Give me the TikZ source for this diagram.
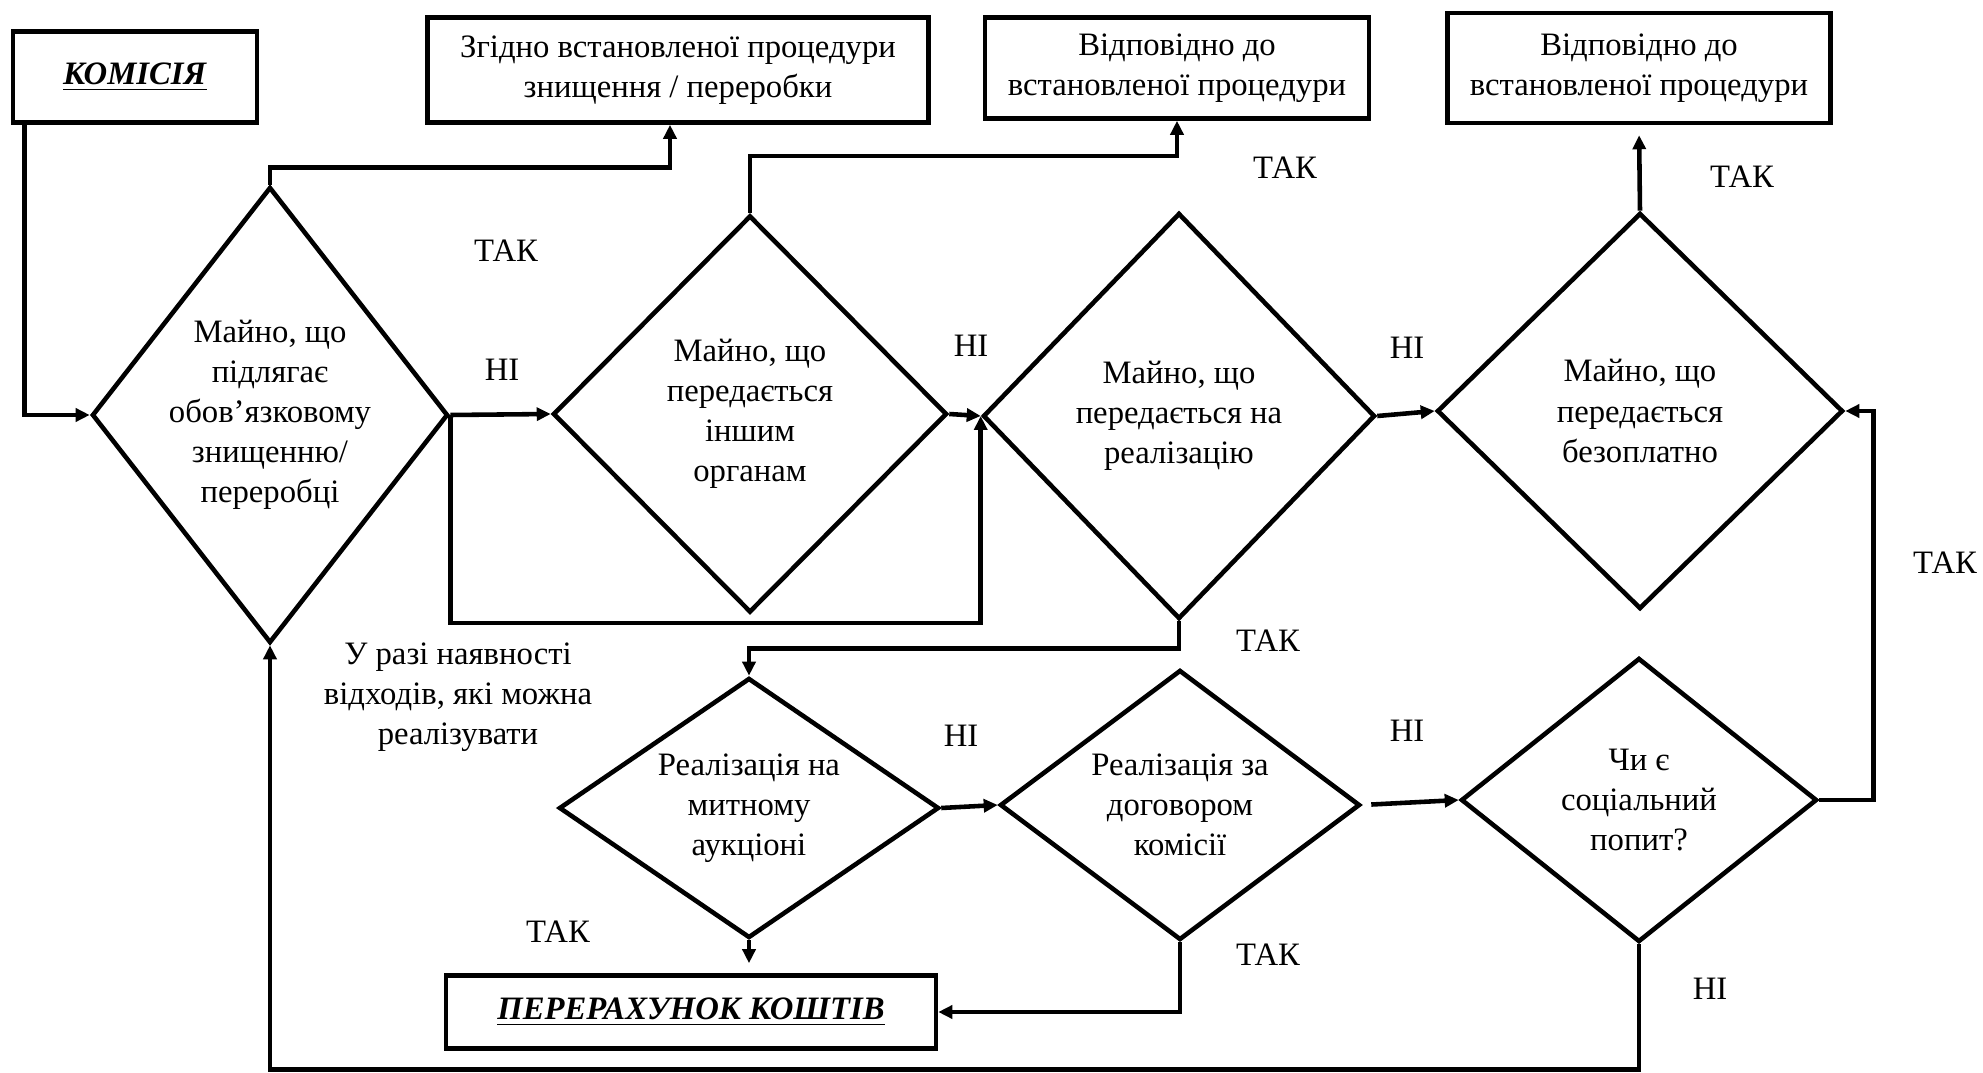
\documentclass[tikz,border=0pt]{standalone}
\usepackage{fontspec}
\setmainfont{Liberation Serif}
\usetikzlibrary{shapes.geometric,arrows.meta,calc}
\newcommand{\umova}[5]{%
 \node[umova,minimum width={#3},minimum height={#4}] ({#1}) at ({#2}) {};%
 \node (#1-t) at ({#1}) {#5};%
}
\newcommand{\blok}[5]{%
 \node[blok,minimum width={#3},minimum height={#4}] ({#1}) at ({#2}) {#5};%
}
\newcommand{\pidpys}[3]{%
 \node ({#1}) at ({#2}) {#3};%
}

\begin{document}
\begin{tikzpicture}[x=0.1mm,y=-0.1mm,line width=1.3pt,
  >={Triangle[length=1.4mm,width=1.3mm]},
  every node/.style={font=\fontsize{9.3}{11.4}\selectfont,align=center},
  umova/.style={diamond,draw,inner sep=0pt},
  blok/.style={rectangle,draw,inner sep=0pt}]
  \useasboundingbox (0,0) rectangle (1983,1073);
  \blok{komisiia}{135,77}{24.4mm}{9.1mm}{\underline{\textbf{\textit{КОМІСІЯ}}}};
  \blok{znyshch}{678,70}{50.1mm}{10.5mm}{Згідно встановленої процедури\\знищення / переробки};
  \blok{vidp1}{1177,68}{38.4mm}{10.1mm}{Відповідно до\\встановленої процедури};
  \blok{vidp2}{1639,68}{38.3mm}{11mm}{Відповідно до\\встановленої процедури};
  \blok{perar}{691,1012}{49mm}{7.3mm}{\underline{\textbf{\textit{ПЕРЕРАХУНОК КОШТІВ}}}};

  \umova{d1}{270,415}{35.6mm}{45.6mm}{Майно, що\\підлягає\\обов’язковому\\знищенню/\\переробці};
  \umova{d2}{750,414}{39.4mm}{39.7mm}{Майно, що\\передається\\іншим\\органам};
  \umova{d3}{1179,416}{39.2mm}{40.6mm}{Майно, що\\передається на\\реалізацію};
  \umova{d4}{1640,411}{40.6mm}{39.6mm}{Майно, що\\передається\\безоплатно};
  \umova{d5}{749,808}{38mm}{26mm}{Реалізація на\\митному\\аукціоні};
  \umova{d6}{1180,805}{36mm}{27mm}{Реалізація за\\договором\\комісії};
  \umova{d7}{1639,800}{35.6mm}{28.4mm}{Чи є\\соціальний\\попит?};

  \draw[->] ($(komisiia.south west)+(14,0)$) |- (d1.west);
  \draw[->] (d1.north) -- ++(0,-17) -| ($(znyshch.south)+(-8,0)$);
  \draw[->] (d1.east) -- (d2.west);
  \draw[->] (d1.east) -- ++(0,208) -| (d3.west);
  \draw[->] (d2.north) -- ++(0,-57) -| (vidp1.south);
  \draw[->] (d2.east) -- (d3.west);
  \draw[->] (d3.south) -- ++(0,27) -| (d5.north);
  \draw[->] (d3.east) -- (d4.west);
  \draw[->,shorten >=1mm] (d4.north) -- (vidp2.south);
  \draw[->] (d5.east) -- (d6.west);
  \draw[->,shorten <=0.9mm] (d6.east) -- (d7.west);
  \draw[->] (d7.east) -- ++(54,0) |- (d4.east);
  \draw[->,shorten >=1mm] (d5.south) -- (d5.south |- perar.north);
  \draw[->] (d6.south) |- (perar.east);
  \draw[->] (d7.south) -- ++(0,125) -| (d1.south);

  \pidpys{tak1}{506,251}{ТАК};
  \pidpys{ni1}{502,370}{НІ};
  \pidpys{vidkhody}{458,697}{У разі наявності\\відходів, які можна\\реалізувати};
  \pidpys{tak2}{1285,168}{ТАК};
  \pidpys{ni2}{971,346}{НІ};
  \pidpys{ni3}{1407,348}{НІ};
  \pidpys{tak3}{1742,177}{ТАК};
  \pidpys{tak4}{1268,641}{ТАК};
  \pidpys{tak5}{1945,563}{ТАК};
  \pidpys{ni4}{961,736}{НІ};
  \pidpys{ni5}{1407,731}{НІ};
  \pidpys{tak6}{558,932}{ТАК};
  \pidpys{tak7}{1268,955}{ТАК};
  \pidpys{ni6}{1710,989}{НІ};
\end{tikzpicture}
\end{document}
